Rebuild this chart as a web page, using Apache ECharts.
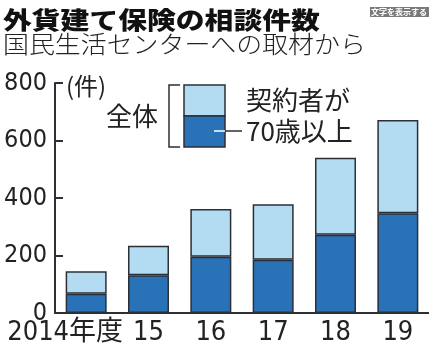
<!DOCTYPE html>
<html>
<head>
<meta charset="utf-8">
<script src="https://cdn.jsdelivr.net/npm/echarts@6/dist/echarts.min.js"></script>
<style>
  html, body { margin: 0; padding: 0; background: #fff; }
  #chart { width: 429px; height: 352px; }
</style>
</head>
<body>
<div id="chart"></div>
<script>
// data
const years = ['2014年度', '15', '16', '17', '18', '19'];
const totalCount = [145, 234, 362, 378, 540, 671];
const over70Count = [67, 131, 196, 185, 272, 347];
const yTicks = [0, 200, 400, 600, 800];

const lightBlue = '#b3dcf2';
const darkBlue = '#2a72b8';
const lineColor = '#2b2f36';
const numFont = '"Liberation Sans Narrow", "DejaVu Sans Condensed", "Noto Sans CJK JP", sans-serif';
const jpFont = '"Noto Sans CJK JP", sans-serif';

// the rest of each total above the 70+ part
const restCount = totalCount.map(function (t, i) { return t - over70Count[i]; });

let chart = echarts.init(document.getElementById('chart'));

const option = {
    animation: false,
    grid: { left: 55, top: 83, width: 378, height: 230 },
    xAxis: {
        type: 'category',
        data: years.map(function (y, i) {
            // first label sits a bit to the left, as in the print
            return i === 0 ? { value: y, textStyle: { padding: [0, 42, 0, 0] } } : y;
        }),
        axisLine: { lineStyle: { color: lineColor, width: 2 } },
        axisTick: { show: false },
        axisLabel: {
            interval: 0, hideOverlap: false,
            color: '#222', fontSize: 27, fontFamily: numFont, margin: 6
        }
    },
    yAxis: {
        type: 'value',
        min: yTicks[0],
        max: yTicks[yTicks.length - 1],
        interval: 200,
        splitLine: { show: false },
        axisLine: { show: true, lineStyle: { color: lineColor, width: 2 } },
        axisTick: { show: true, inside: true, length: 8, lineStyle: { color: lineColor, width: 2 } },
        axisLabel: {
            color: '#222', fontSize: 25, fontFamily: numFont, margin: 8
        }
    },
    series: [
        {
            type: 'bar',
            stack: 'all',
            barWidth: 41,
            data: over70Count,
            itemStyle: { color: darkBlue, borderColor: lineColor, borderWidth: 1.5 }
        },
        {
            type: 'bar',
            stack: 'all',
            barWidth: 41,
            data: restCount,
            itemStyle: { color: lightBlue, borderColor: lineColor, borderWidth: 1.5 }
        }
    ],
    graphic: [
        // title + subtitle
        { type: 'text', x: 3, y: 20, scaleX: 1.2, style: { text: '外貨建て保険の相談件数', fontSize: 24, fontWeight: 900, fontFamily: jpFont, fill: '#111', verticalAlign: 'middle' } },
        { type: 'text', x: 3, y: 44, scaleX: 1.08, style: { text: '国民生活センターへの取材から', fontSize: 24, fontWeight: 300, fontFamily: jpFont, fill: '#222', verticalAlign: 'middle' } },
        // small badge at the top right
        { type: 'rect', shape: { x: 370, y: 7, width: 60, height: 10 }, style: { fill: '#7a7a7a' } },
        { type: 'text', x: 371, y: 12, style: { text: '文字を表示する', fontSize: 8, fontWeight: 'bold', fontFamily: jpFont, fill: '#fff', verticalAlign: 'middle' } },
        // unit
        { type: 'text', x: 66, y: 86, style: { text: '(件)', fontSize: 24, fontFamily: jpFont, fill: '#222', verticalAlign: 'middle' } },
        // legend
        { type: 'text', x: 106, y: 116, style: { text: '全体', fontSize: 26, fontFamily: jpFont, fill: '#222', verticalAlign: 'middle' } },
        { type: 'polyline', shape: { points: [[180, 85], [169, 85], [169, 147], [180, 147]] }, style: { stroke: lineColor, lineWidth: 1.5, fill: null } },
        { type: 'rect', shape: { x: 184, y: 85, width: 41, height: 31 }, style: { fill: lightBlue, stroke: lineColor, lineWidth: 1.5 } },
        { type: 'rect', shape: { x: 184, y: 116, width: 41, height: 31 }, style: { fill: darkBlue, stroke: lineColor, lineWidth: 1.5 } },
        { type: 'line', shape: { x1: 214, y1: 131, x2: 225, y2: 131 }, style: { stroke: '#fff', lineWidth: 1.5 } },
        { type: 'line', shape: { x1: 225, y1: 131, x2: 242, y2: 131 }, style: { stroke: lineColor, lineWidth: 1.5 } },
        { type: 'text', x: 246, y: 100, style: { text: '契約者が', fontSize: 26, fontFamily: jpFont, fill: '#222', verticalAlign: 'middle' } },
        { type: 'text', x: 246, y: 131, style: { text: '70歳以上', fontSize: 26, fontFamily: jpFont, fill: '#222', verticalAlign: 'middle' } }
    ]
};

chart.setOption(option);
</script>
</body>
</html>
